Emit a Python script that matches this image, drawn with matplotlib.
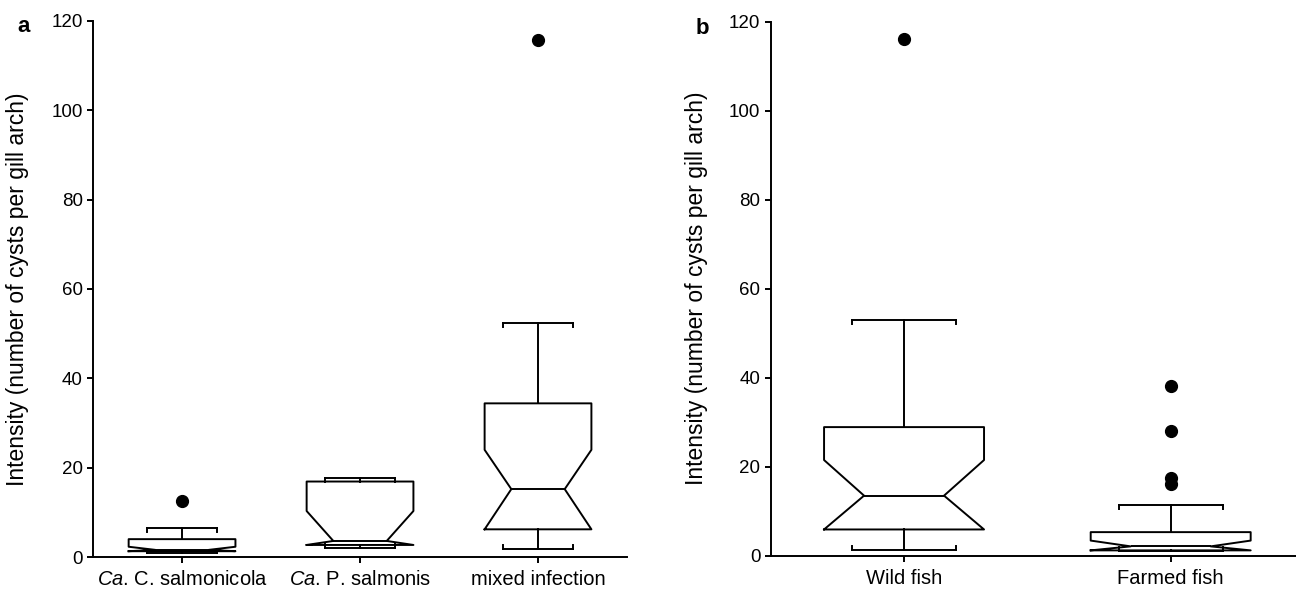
import numpy as np
import matplotlib.pyplot as plt

plt.rcParams['font.family'] = ['Liberation Sans', 'DejaVu Sans']
plt.rcParams['mathtext.fontset'] = 'custom'
plt.rcParams['mathtext.rm'] = 'Liberation Sans'
plt.rcParams['mathtext.it'] = 'Liberation Sans:italic'

# Panel a: infection type
labels_a = [r'$\mathit{Ca}$. C. salmonicola', r'$\mathit{Ca}$. P. salmonis', 'mixed infection']
whislo_a = [1.0, 2.0, 1.9]
q1_a = [1.3, 2.7, 6.2]
cilo_a = [1.3, 2.7, 6.2]
med_a = [1.6, 3.6, 15.2]
cihi_a = [2.3, 10.3, 24.0]
q3_a = [4.0, 16.9, 34.4]
whishi_a = [6.5, 17.7, 52.5]
fliers_a = [[12.5], [], [115.7]]

# Panel b: wild vs farmed
labels_b = ['Wild fish', 'Farmed fish']
whislo_b = [1.3, 1.0]
q1_b = [5.9, 1.2]
cilo_b = [5.9, 1.2]
med_b = [13.5, 2.1]
cihi_b = [21.5, 3.4]
q3_b = [28.9, 5.3]
whishi_b = [53.0, 11.4]
fliers_b = [[116.0], [38.1, 28.0, 17.4, 16.1]]

lw = 1.4
box_w = 0.6
cap_w = 0.39


def make_stats(lo, q1, cilo, med, cihi, q3, hi, fl):
    out = []
    for i in range(len(lo)):
        out.append(dict(whislo=lo[i], q1=q1[i], cilo=cilo[i], med=med[i],
                        cihi=cihi[i], q3=q3[i], whishi=hi[i], fliers=fl[i]))
    return out


def draw(ax, stats, labels, xmax):
    pos = np.arange(1, len(stats) + 1)
    ax.bxp(stats, positions=pos, widths=box_w, shownotches=True,
           capwidths=cap_w,
           boxprops=dict(color='black', linewidth=lw),
           medianprops=dict(color='black', linewidth=lw),
           whiskerprops=dict(color='black', linewidth=lw),
           capprops=dict(color='black', linewidth=lw),
           flierprops=dict(marker='o', markerfacecolor='black',
                           markeredgecolor='black', markersize=8.5))
    # little hooks at cap ends
    for p, s in zip(pos, stats):
        for xe in (p - cap_w / 2, p + cap_w / 2):
            ax.plot([xe, xe], [s['whishi'], s['whishi'] - 0.9], color='black', lw=lw)
            ax.plot([xe, xe], [s['whislo'], s['whislo'] + 0.9], color='black', lw=lw)
    ax.set_xlim(0.5, xmax)
    ax.set_ylim(0, 120)
    ax.set_yticks(np.arange(0, 121, 20))
    ax.set_xticks(pos)
    ax.set_xticklabels(labels)
    for sp in ['top', 'right']:
        ax.spines[sp].set_visible(False)
    for sp in ['left', 'bottom']:
        ax.spines[sp].set_linewidth(lw)
    ax.tick_params(length=4.5, width=lw, labelsize=13.5, pad=3)
    ax.tick_params(axis='x', pad=5, labelsize=14.5)
    ax.set_ylabel('Intensity (number of cysts per gill arch)', fontsize=16.5)
    ax.yaxis.set_label_coords(-0.12, 0.5)


fig = plt.figure(figsize=(12.96, 5.91), dpi=100)
ax1 = fig.add_axes([0.0718, 0.0575, 0.412, 0.907])
ax2 = fig.add_axes([0.5947, 0.0597, 0.4053, 0.9036])

draw(ax1, make_stats(whislo_a, q1_a, cilo_a, med_a, cihi_a, q3_a, whishi_a, fliers_a), labels_a, 3.5)
draw(ax2, make_stats(whislo_b, q1_b, cilo_b, med_b, cihi_b, q3_b, whishi_b, fliers_b), labels_b, 2.47)

fig.text(0.0185, 0.946, 'a', fontsize=16, fontweight='bold', ha='center', va='baseline')
fig.text(0.5417, 0.942, 'b', fontsize=16, fontweight='bold', ha='center', va='baseline')

fig.savefig('out.png', dpi=100)
